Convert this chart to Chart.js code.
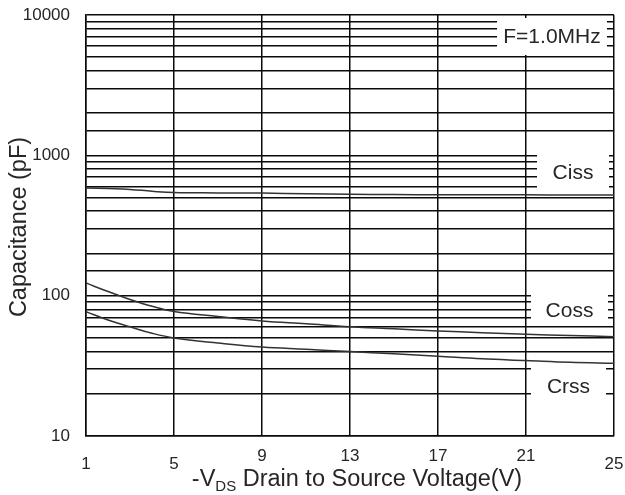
<!DOCTYPE html>
<html>
<head>
<meta charset="utf-8">
<script src="https://cdn.jsdelivr.net/npm/chart.js@4.4.1/dist/chart.umd.min.js"></script>
<style>
  html, body { margin: 0; padding: 0; background: #fff; }
  #wrap { width: 625px; height: 495px; }
</style>
</head>
<body>
<div id="wrap"><canvas id="cap"></canvas></div>
<script>
// -VDS sweep points and measured capacitances (pF)
const vds = [1, 2, 3, 4, 5, 7, 9, 11, 13, 15, 17, 19, 21, 23, 25];
const ciss = [586, 580, 572, 555, 543, 540, 538, 532, 527, 525, 524, 523, 523, 522, 522];
const coss = [123, 107, 94, 84, 77, 71, 66, 63, 60, 58, 56, 54.5, 53, 52, 51];
const crss = [77, 67, 60, 54, 50, 46, 43, 41.5, 40, 38.5, 37, 35.5, 34.5, 33.5, 33];
const xTicks = [1, 5, 9, 13, 17, 21, 25];
// labels sitting a little lower than the others
const lowTicks = [1, 5, 25];

const FONT = '"Liberation Sans", Arial, sans-serif';
const INK = '#262626';

const toXY = (arr) => arr.map((v, i) => ({ x: vds[i], y: v }));

// white boxes with the curve names / test condition
const notes = [
    { text: 'F=1.0MHz', x: 497, y: 18, w: 110, h: 37 },
    { text: 'Ciss', x: 537, y: 153, w: 72, h: 38 },
    { text: 'Coss', x: 531, y: 295, w: 77, h: 30 },
    { text: 'Crss', x: 531, y: 368, w: 75, h: 36 }
];

const notesPlugin = {
    id: 'notes',
    beforeDatasetsDraw(chart) {
        const ctx = chart.ctx;
        ctx.save();
        ctx.font = `21px ${FONT}`;
        ctx.textAlign = 'center';
        ctx.textBaseline = 'middle';
        for (const n of notes) {
            ctx.fillStyle = '#fff';
            ctx.fillRect(n.x, n.y, n.w, n.h);
            ctx.fillStyle = INK;
            ctx.fillText(n.text, n.x + n.w / 2, n.y + n.h / 2 + 1);
        }
        ctx.restore();
    }
};

// axis titles, drawn by hand because of the DS subscript
const titlesPlugin = {
    id: 'titles',
    afterDraw(chart) {
        const ctx = chart.ctx;
        const area = chart.chartArea;
        ctx.save();
        ctx.fillStyle = INK;
        ctx.textBaseline = 'alphabetic';

        const big = `23.5px ${FONT}`;
        const small = `15px ${FONT}`;
        const parts = [
            { t: '-V', f: big, dy: 0 },
            { t: 'DS', f: small, dy: 5 },
            { t: ' Drain to Source Voltage(V)', f: big, dy: 0 }
        ];
        let total = 0;
        for (const p of parts) {
            ctx.font = p.f;
            p.w = ctx.measureText(p.t).width;
            total += p.w;
        }
        let x = (area.left + area.right) / 2 + 7 - total / 2;
        const base = 486;
        for (const p of parts) {
            ctx.font = p.f;
            ctx.fillText(p.t, x, base + p.dy);
            x += p.w;
        }

        ctx.translate(26, 227);
        ctx.rotate(-Math.PI / 2);
        ctx.font = big;
        ctx.textAlign = 'center';
        ctx.fillText('Capacitance (pF)', 0, 0);
        ctx.restore();
    }
};

const curve = (label, data) => ({
    label,
    data: toXY(data),
    borderColor: '#333',
    borderWidth: 1.5,
    pointRadius: 0,
    tension: 0.4,
    fill: false
});

new Chart(document.querySelector('#cap'), {
    type: 'line',
    data: {
        datasets: [
            curve('Ciss', ciss),
            curve('Coss', coss),
            curve('Crss', crss)
        ]
    },
    options: {
        responsive: true,
        maintainAspectRatio: false,
        animation: false,
        layout: { padding: { top: 15, right: 11, left: 0, bottom: 0 } },
        plugins: {
            legend: { display: false },
            tooltip: { enabled: false }
        },
        scales: {
            x: {
                type: 'linear',
                min: 1,
                max: 25,
                afterBuildTicks: (scale) => {
                    scale.ticks = xTicks.map(v => ({ value: v }));
                },
                afterFit: (scale) => {
                    // fixed plot box, no room reserved for label overflow
                    scale.height = 59;
                    scale.paddingLeft = 0;
                    scale.paddingRight = 0;
                },
                grid: { color: '#0a0a0a', lineWidth: 1.5, drawTicks: false },
                border: { color: '#0a0a0a', width: 1.5 },
                ticks: {
                    color: INK,
                    padding: 10,
                    maxRotation: 0,
                    autoSkip: false,
                    font: (c) => ({
                        family: FONT,
                        size: 17,
                        lineHeight: c.tick && lowTicks.includes(c.tick.value) ? 0.7 : 1.2
                    }),
                    callback: (v) => lowTicks.includes(v) ? ['', String(v)] : String(v)
                }
            },
            y: {
                type: 'logarithmic',
                min: 10,
                max: 10000,
                afterFit: (scale) => {
                    scale.width = 86;
                    scale.paddingTop = 0;
                    scale.paddingBottom = 0;
                },
                grid: { color: '#0a0a0a', lineWidth: 1.5, drawTicks: false },
                border: { color: '#0a0a0a', width: 1.5 },
                ticks: {
                    color: INK,
                    padding: 16,
                    autoSkip: false,
                    font: { family: FONT, size: 17 },
                    callback: (v) => {
                        const e = Math.log10(v);
                        return Math.abs(e - Math.round(e)) < 1e-9 ? String(v) : '';
                    }
                }
            }
        }
    },
    plugins: [notesPlugin, titlesPlugin]
});
</script>
</body>
</html>
